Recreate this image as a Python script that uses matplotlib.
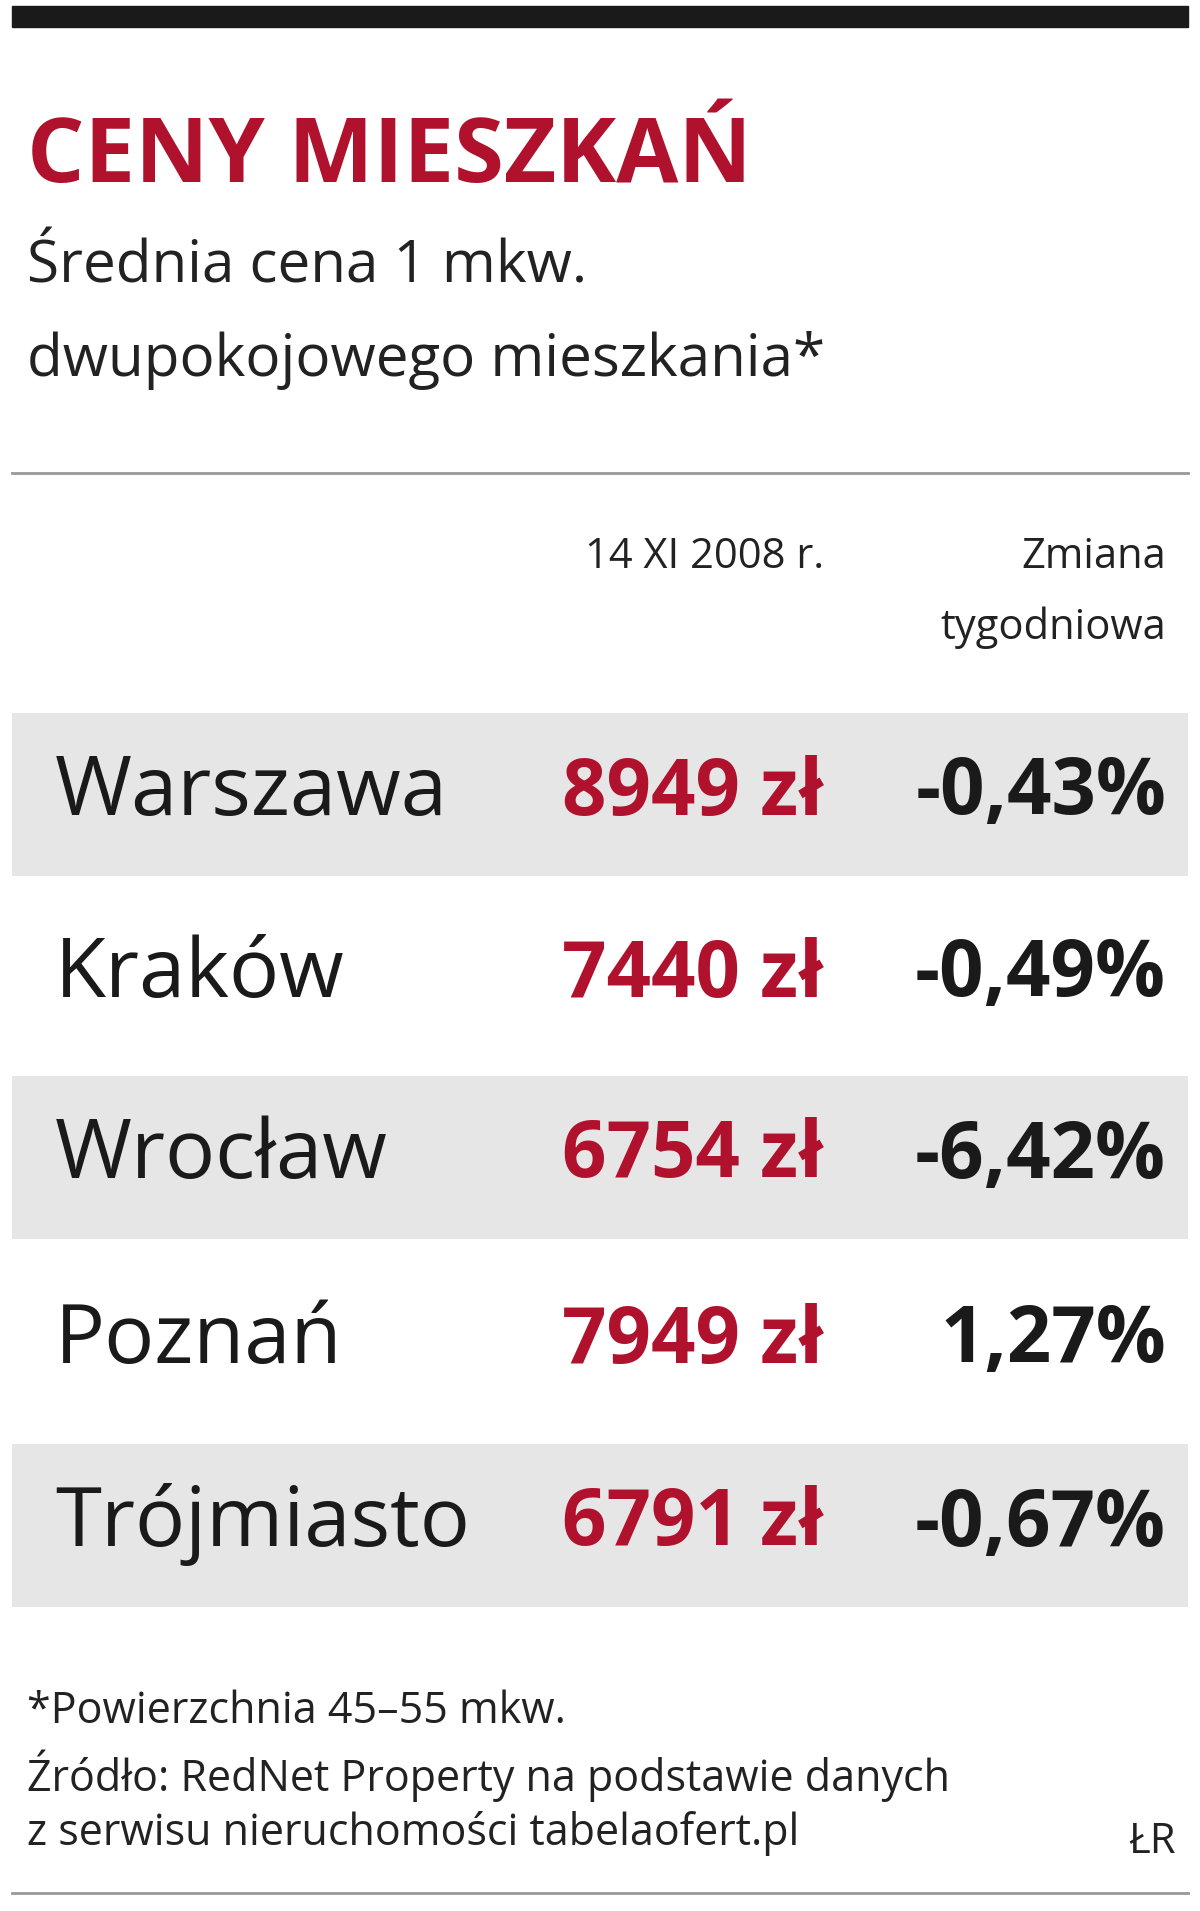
import matplotlib.pyplot as plt
from matplotlib.patches import Rectangle

cities = ["Warszawa", "Kraków", "Wrocław", "Poznań", "Trójmiasto"]
prices = [8949, 7440, 6754, 7949, 6791]
changes = ["-0,43", "-0,49", "-6,42", "1,27", "-0,67"]

RED = "#b0122e"
FONT = ["Liberation Sans Narrow", "Open Sans", "DejaVu Sans"]
plt.rcParams['font.family'] = FONT

fig = plt.figure(figsize=(12, 19.11), dpi=100)
ax = fig.add_axes([0, 0, 1, 1])
ax.set_xlim(0, 1200)
ax.set_ylim(1911, 0)
ax.axis("off")

ax.add_patch(Rectangle((12, 6), 1176, 21, color="#1a1a1a"))
ax.text(27, 182, "CENY MIESZKAŃ", color=RED, fontsize=65, fontweight="bold", va="baseline")
ax.text(27, 267, "Średnia cena 1 mkw.", color="#222", fontsize=42, va="center")
ax.text(27, 360, "dwupokojowego mieszkania*", color="#222", fontsize=42, va="center")
ax.plot([12, 1188], [473, 473], color="#999", lw=2)

ax.text(824, 557, "14 XI 2008 r.", fontsize=30, ha="right", va="center", color="#222")
ax.text(1166, 557, "Zmiana", fontsize=30, ha="right", va="center", color="#222")
ax.text(1166, 628, "tygodniowa", fontsize=30, ha="right", va="center", color="#222")

row_y = [794, 976, 1157, 1342, 1525]
for i, (c, p, ch) in enumerate(zip(cities, prices, changes)):
    y = row_y[i]
    if i % 2 == 0:
        ax.add_patch(Rectangle((12, y - 81), 1176, 163, color="#e6e6e6", lw=0))
    ax.text(55, y, c, fontsize=60, va="center", color="#1a1a1a")
    ax.text(824, y, f"{p} zł", fontsize=56, fontweight="bold", ha="right", va="center", color=RED)
    ax.text(1166, y, f"{ch}%", fontsize=56, fontweight="bold", ha="right", va="center", color="#1a1a1a")

ax.text(27, 1712, "*Powierzchnia 45–55 mkw.", fontsize=31, va="center", color="#222")
ax.text(27, 1776, "Źródło: RedNet Property na podstawie danych", fontsize=31, va="center", color="#222")
ax.text(27, 1834, "z serwisu nieruchomości tabelaofert.pl", fontsize=31, va="center", color="#222")
ax.text(1176, 1842, "ŁR", fontsize=30, ha="right", va="center", color="#222")
ax.plot([12, 1188], [1893, 1893], color="#999", lw=2)

fig.savefig("out.png", dpi=100, facecolor="white")
